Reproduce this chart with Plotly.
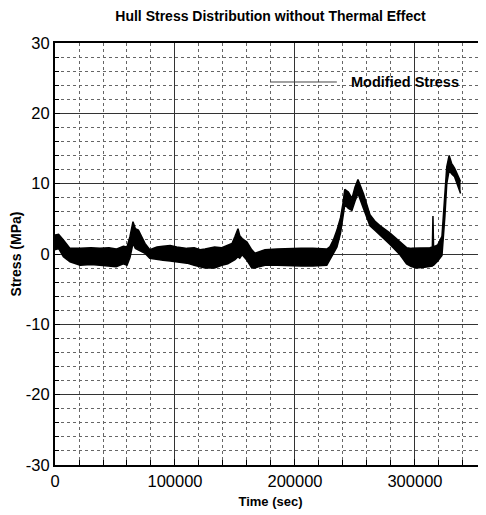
import plotly.graph_objects as go

# Time (sec) and envelope of the dense stress signal (MPa)
time_s = [0, 3000, 7000, 12500, 21000, 30000, 37500, 45000, 51000, 57000, 60000,
          62500, 65000, 67000, 69500, 72000, 75000, 79000, 85000, 90000, 96000,
          101500, 110000, 116000, 121000, 125000, 133000, 139000, 144000, 147500,
          150000, 152500, 154000, 156000, 160000, 164000, 166700, 170000, 175000,
          185000, 195000, 205000, 215000, 222000, 226500, 229000, 232000, 235000,
          238000, 240000, 241500, 244500, 247500, 250000, 252500, 257000, 262500,
          267000, 271000, 279000, 287500, 293000, 297000, 301500, 308000, 312500,
          314500, 315000, 315500, 319000, 322500, 325000, 326500, 328500, 330500,
          333000, 335000, 338000]
stress_upper = [2.7, 2.8, 2.0, 0.8, 0.8, 0.9, 0.8, 0.9, 0.7, 1.1, 1.0,
                2.5, 4.6, 3.6, 3.4, 2.6, 1.5, 0.6, 1.0, 1.1, 1.2,
                1.0, 0.8, 0.9, 0.6, 0.7, 1.0, 0.9, 1.2, 1.5,
                2.5, 3.6, 2.6, 2.2, 1.7, 0.6, 0.1, 0.3, 0.6,
                0.7, 0.8, 0.8, 0.8, 0.7, 0.7, 1.0, 2.0, 3.4,
                5.2, 7.2, 9.2, 8.8, 7.9, 9.5, 10.6, 8.6, 5.6,
                4.6, 4.0, 3.0, 1.8, 0.9, 0.8, 0.8, 0.9, 0.9,
                1.0, 5.4, 1.0, 1.3, 2.5, 8.6, 12.4, 14.0, 12.9,
                12.2, 11.4, 10.3]
stress_lower = [0.6, 0.8, -0.4, -1.1, -1.6, -1.5, -1.6, -1.7, -1.8, -1.4, -1.6,
                -0.5, 1.5, 0.8, 0.6, 0.3, 0.1, -0.6, -0.8, -0.9, -1.0,
                -1.1, -1.3, -1.6, -1.8, -2.0, -2.0, -1.6, -1.4, -1.1,
                -0.8, -0.4, -0.6, -0.1, -0.9, -2.0, -2.0, -1.8, -1.6,
                -1.6, -1.7, -1.7, -1.7, -1.6, -1.6, -0.85, 0.0, 1.0,
                3.0, 5.3, 7.0, 6.5, 6.2, 7.5, 8.6, 6.5, 4.0,
                3.3, 2.7, 1.4, -0.1, -1.4, -1.8, -2.0, -1.9, -1.8,
                -1.7, -1.6, -1.6, -1.0, -0.2, 5.5, 10.0, 11.9, 11.4,
                11.0, 10.0, 8.6]

x_tick_vals = [0, 100000, 200000, 300000]
x_tick_text = ["0", "100000", "200000", "300000"]
y_tick_vals = [-30, -20, -10, 0, 10, 20, 30]
y_tick_text = ["-30", "-20", "-10", "0", "10", "20", "30"]

title_text = "Hull Stress Distribution without Thermal Effect"
series_name = "Modified Stress"
x_title = "Time (sec)"
y_title = "Stress (MPa)"

FONT = "Liberation Sans, Arial, sans-serif"

fig = go.Figure()
fig.add_trace(go.Scatter(x=time_s, y=stress_lower, mode="lines",
                         line=dict(color="black", width=1.5), showlegend=False,
                         hoverinfo="skip"))
fig.add_trace(go.Scatter(x=time_s, y=stress_upper, mode="lines", name=series_name,
                         line=dict(color="black", width=1.5), fill="tonexty",
                         fillcolor="black", showlegend=False))

# legend sample drawn inside the plot
fig.add_shape(type="line", xref="paper", yref="paper", x0=0.499, x1=0.654,
              y0=0.9076, y1=0.9076, line=dict(color="#444", width=1))
fig.add_annotation(xref="paper", yref="paper", x=0.682, y=0.9076, text=series_name,
                   showarrow=False, xanchor="left", yanchor="middle",
                   font=dict(family=FONT, size=14.5, color="black", weight="bold"))

# the page adds an 8px body margin, so the figure is 8px smaller than the window
fig.update_layout(
    width=478, height=507,
    margin=dict(l=47, r=0, t=35, b=50),
    paper_bgcolor="white", plot_bgcolor="white",
    title=dict(text="<b>" + title_text + "</b>", x=0.5, xref="paper", xanchor="center",
               y=1 - 8 / 507, yref="container", yanchor="middle",
               font=dict(family=FONT, size=14, color="black")),
    font=dict(family=FONT, color="black"),
)
fig.update_xaxes(
    range=[0, 359200], tickvals=x_tick_vals, ticktext=x_tick_text,
    automargin=False,
    showgrid=True, gridcolor="#333", gridwidth=1,
    showline=True, linecolor="black", linewidth=2, mirror=True,
    ticks="inside", ticklen=6, tickcolor="black",
    tickfont=dict(family=FONT, size=16.5, color="black"),
    zeroline=False,
    minor=dict(dtick=20000, tick0=0, showgrid=True, gridcolor="#666", griddash="dot",
               gridwidth=1, ticks="inside", ticklen=5, tickcolor="black"),
    title=dict(text="<b>" + x_title + "</b>", font=dict(family=FONT, size=13),
               standoff=8),
)
fig.update_yaxes(
    range=[-30, 30], tickvals=y_tick_vals, ticktext=y_tick_text,
    automargin=False,
    showgrid=True, gridcolor="#333", gridwidth=1,
    showline=True, linecolor="black", linewidth=2,
    ticks="inside", ticklen=5, tickcolor="black",
    tickfont=dict(family=FONT, size=16.5, color="black"),
    zeroline=True, zerolinecolor="#333", zerolinewidth=1,
    minor=dict(dtick=2, tick0=0, showgrid=True, gridcolor="#666", griddash="dot",
               gridwidth=1, ticks="inside", ticklen=4, tickcolor="black"),
    title=dict(text="<b>" + y_title + "</b>", font=dict(family=FONT, size=14),
               standoff=3),
)

fig.write_html("out.html")
